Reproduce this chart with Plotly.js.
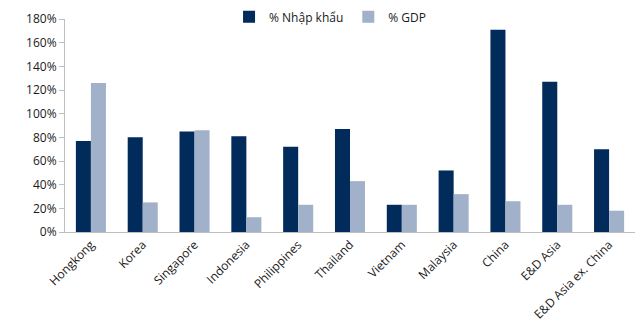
<!DOCTYPE html>
<html>
<head>
<meta charset="utf-8">
<script src="https://cdn.plot.ly/plotly-3.0.1.min.js"></script>
<style>html,body{margin:0;padding:0;background:#fff;}#chart{width:640px;height:329px;}</style>
</head>
<body>
<div id="chart"></div>
<script>
const categories = ["Hongkong","Korea","Singapore","Indonesia","Philippines","Thailand","Vietnam","Malaysia","China","E&D Asia","E&D Asia ex. China"];
const importShare = [77, 80, 85, 81, 72, 87, 23, 52, 171, 127, 70];
const gdpShare = [126, 25, 86, 12.5, 23, 43, 23, 32, 26, 23, 18];
const seriesNames = ["% Nhập khẩu", "% GDP"];
const yTicks = [0,20,40,60,80,100,120,140,160,180];
const yTickLabels = yTicks.map(v => v + "%");

const font = {family: "Open Sans, Noto Sans, sans-serif", size: 12, color: "#1a1a1a"};
const data = [
  {type: "bar", x: categories, y: importShare, name: seriesNames[0], marker: {color: "#002b5a", line: {width: 0}}},
  {type: "bar", x: categories, y: gdpShare, name: seriesNames[1], marker: {color: "#a2b1ca", line: {width: 0}}}
];
const layout = {
  width: 640, height: 329,
  margin: {l: 65, r: 5, t: 19, b: 97, autoexpand: false},
  paper_bgcolor: "#fff", plot_bgcolor: "#fff",
  font: font,
  barmode: "group", bargap: 0.42, bargroupgap: 0,
  showlegend: true,
  legend: {orientation: "h", x: 0.465, xanchor: "center", y: 1.01, yanchor: "middle", font: {family: font.family, size: 12, color: "#1a1a1a"}, itemwidth: 30, traceorder: "normal", bgcolor: "rgba(0,0,0,0)"},
  xaxis: {tickangle: -45, showline: true, linecolor: "#bfbfbf", linewidth: 1, ticks: "", showgrid: false, tickfont: {family: font.family, size: 12, color: "#1a1a1a"}, automargin: false},
  yaxis: {range: [0, 180], tickvals: yTicks, ticktext: yTickLabels, showline: true, linecolor: "#bfbfbf", linewidth: 1, ticks: "outside", ticklen: 5, tickcolor: "#bfbfbf", showgrid: false, zeroline: false, tickfont: {family: font.family, size: 12, color: "#1a1a1a"}, automargin: false}
};
Plotly.newPlot("chart", data, layout, {displayModeBar: false, staticPlot: true});
</script>
</body>
</html>
